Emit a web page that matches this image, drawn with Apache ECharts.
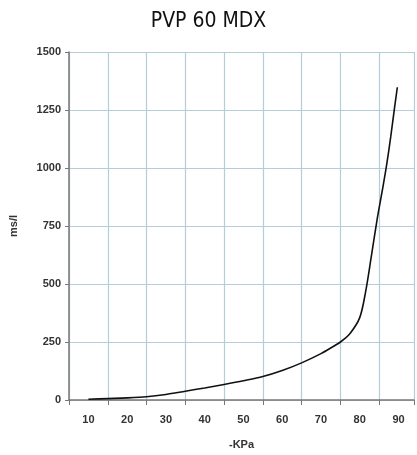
<!DOCTYPE html>
<html>
<head>
<meta charset="utf-8">
<script src="https://cdn.jsdelivr.net/npm/echarts@6/dist/echarts.min.js"></script>
<style>html,body{margin:0;padding:0;background:#fff}#c{width:417px;height:455px}</style>
</head>
<body>
<div id="c"></div>
<script>
var titleText = 'PVP 60 MDX';
var xName = '-KPa';
var yName = 'ms/l';
var kpa = [10, 15, 20, 25, 30, 35, 40, 45, 50, 55, 60, 65, 70, 72.5, 75, 77.5, 80, 81.5, 83, 84.5, 86, 87, 88, 89, 89.7];
var msl = [3, 6, 9, 14, 24, 38, 52, 67, 83, 101, 127, 160, 200, 224, 250, 287, 355, 465, 620, 780, 920, 1020, 1135, 1262, 1348];
var xTickLabels = [10, 20, 30, 40, 50, 60, 70, 80, 90];

var chart = echarts.init(document.getElementById('c'));
var pts = kpa.map(function (k, i) { return [k, msl[i]]; });
var labelFont = { fontFamily: 'Liberation Sans', fontWeight: 'bold', fontSize: 11, color: '#333' };
chart.setOption({
  animation: false,
  backgroundColor: '#fff',
  title: {
    text: titleText, left: 'center', top: 6,
    textStyle: { fontFamily: 'Liberation Sans Narrow, DejaVu Sans Condensed, sans-serif', fontWeight: 'normal', fontSize: 21, color: '#111' }
  },
  grid: { left: 66, right: 0, top: 52, bottom: 48 },
  xAxis: [{
    type: 'value', min: 5, max: 94, interval: 10,
    axisLine: { show: true, onZero: false, lineStyle: { color: '#777', width: 1.5 } },
    axisTick: { show: true, length: 5, lineStyle: { color: '#777' } },
    axisLabel: { show: false },
    splitLine: { show: true, lineStyle: { color: '#b4ced9', width: 1.2 } }
  }, {
    type: 'value', min: 5, max: 94, interval: 5, position: 'bottom',
    name: xName, nameLocation: 'middle', nameGap: 39,
    nameTextStyle: labelFont,
    axisLine: { show: false }, axisTick: { show: false }, splitLine: { show: false },
    axisLabel: Object.assign({ margin: 14, formatter: function (v) { return xTickLabels.indexOf(v) >= 0 ? String(v) : ''; } }, labelFont)
  }],
  yAxis: {
    type: 'value', min: 0, max: 1500, interval: 250,
    name: yName, nameLocation: 'middle', nameGap: 50, nameRotate: 90,
    nameTextStyle: labelFont,
    axisLine: { show: true, lineStyle: { color: '#777', width: 1.5 } },
    axisTick: { show: true, length: 4, lineStyle: { color: '#777' } },
    axisLabel: Object.assign({ margin: 8, formatter: function (v) { return String(v); } }, labelFont),
    splitLine: { show: true, lineStyle: { color: '#b4ced9', width: 1.2 } }
  },
  series: [{
    type: 'line', data: pts, xAxisIndex: 0, smooth: 0.3, showSymbol: false,
    lineStyle: { color: '#111', width: 1.6 }
  }]
});
</script>
</body>
</html>
